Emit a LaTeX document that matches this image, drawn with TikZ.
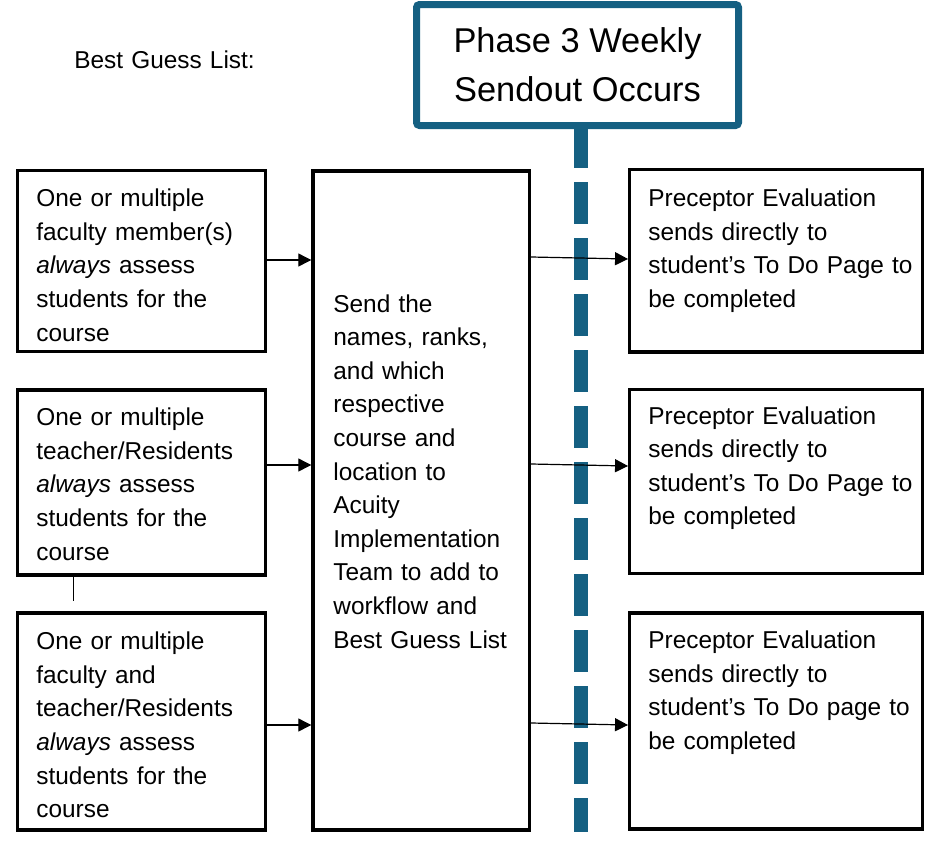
\documentclass[tikz,border=0pt]{standalone}
\usepackage{fontspec}
\setmainfont{Liberation Sans}
\usetikzlibrary{arrows.meta}
\definecolor{phaseblue}{HTML}{156082}

\begin{document}
\begin{tikzpicture}[x=0.5pt, y=-0.5pt,
	box/.style={rectangle, draw=black, line width=1.7pt, inner sep=0pt},
	headbox/.style={rectangle, draw=phaseblue, line width=3.5pt, rounded corners=1.5pt, fill=white, inner sep=0pt, minimum width=161pt, minimum height=60.5pt, align=center, font=\fontsize{17.2}{24.5}\selectfont},
	txt/.style={inner sep=0pt, text width=150pt, align=left, anchor=base west, font=\fontsize{12.2}{16.8}\selectfont},
	arr/.style={draw=black, line width=0.6pt, -{Triangle[length=6.5pt, width=6.5pt]}},
	sendline/.style={draw=phaseblue, line width=7pt, dash pattern=on 21pt off 7pt, dash phase=1.5pt}]
				\useasboundingbox (0,0) rectangle (943,841);
				
				% boxes
				\node[box, minimum width=124pt, minimum height=90.75pt] (l1) at (141.5,261){};
				\node[box, minimum width=124pt, minimum height=92.5pt] (l2) at (141.5,482.5){};
				\node[box, minimum width=124pt, minimum height=108.5pt] (l3) at (141.5,721.5){};
				\node[box, minimum width=108.25pt, minimum height=329.5pt] (mid) at (421.25,500.5){};
				\node[box, minimum width=146.5pt, minimum height=91.25pt] (r1) at (776.25,260.75){};
				\node[box, minimum width=146.5pt, minimum height=92pt] (r2) at (776.25,481.5){};
				\node[box, minimum width=146.5pt, minimum height=108pt] (r3) at (776.25,721){};
				
				% dashed sendout line
				\coordinate (sendend) at (581,832);
				\node[headbox] (head) at (577.5,65){Phase 3 Weekly\\Sendout Occurs};
				\draw[sendline] (head.south -| sendend) -- (sendend);
				
				% texts
				\node[txt] (guess) at (74,68){Best Guess List:};
				\node[txt] (l1text) at (36,206.7){One or multiple\\faculty member(s)\\\textit{always} assess\\students for the\\course};
				\node[txt] (l2text) at (36,425.7){One or multiple\\teacher/Residents\\\textit{always} assess\\students for the\\course};
				\node[txt] (l3text) at (36,649.7){One or multiple\\faculty and\\teacher/Residents\\\textit{always} assess\\students for the\\course};
				\node[txt] (midtext) at (333,312){Send the\\names, ranks,\\and which\\respective\\course and\\location to\\Acuity\\Implementation\\Team to add to\\workflow and\\Best Guess List};
				\node[txt] (r1text) at (648,206.7){Preceptor Evaluation\\sends directly to\\student’s To Do Page to\\be completed};
				\node[txt] (r2text) at (648,424){Preceptor Evaluation\\sends directly to\\student’s To Do Page to\\be completed};
				\node[txt] (r3text) at (648,648.5){Preceptor Evaluation\\sends directly to\\student’s To Do page to\\be completed};
				
				% arrows
				\foreach \i/\ya/\yb/\yc in {1/260/257/259, 2/465/464/466, 3/725/723/725}{
					\draw[arr] (l\i.east |- 0,\ya) -- (mid.west |- 0,\ya);
					\draw[arr] (mid.east |- 0,\yb) -- (r\i.west |- 0,\yc);
				}
				
				\coordinate (stub) at (73,601);
				\draw[line width=0.5pt] (l2.south -| stub) -- (stub);
\end{tikzpicture}
\end{document}
